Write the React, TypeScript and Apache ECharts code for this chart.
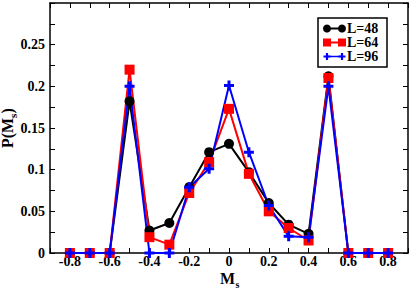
import React, { useEffect, useRef } from "react";
import * as echarts from "echarts";

const xValues = [-0.8, -0.7, -0.6, -0.5, -0.4, -0.3, -0.2, -0.1, 0, 0.1, 0.2, 0.3, 0.4, 0.5, 0.6, 0.7, 0.8];
const L48 = [0, 0, 0, 0.182, 0.027, 0.036, 0.079, 0.121, 0.131, 0.097, 0.06, 0.034, 0.023, 0.212, 0, 0, 0];
const L64 = [0, 0, 0, 0.22, 0.019, 0.01, 0.072, 0.109, 0.173, 0.095, 0.05, 0.03, 0.015, 0.21, 0, 0, 0];
const L96 = [0, 0, 0, 0.2, 0, 0, 0.079, 0.101, 0.201, 0.121, 0.057, 0.02, 0.019, 0.2, 0, 0, 0];
const seriesNames = ["L=48", "L=64", "L=96"];
const colors = ["#000000", "#ff0000", "#0000ff"];

const FONT = "'Liberation Serif', 'Times New Roman', serif";
const PLUS = "path://M3.5,0H6.5V3.5H10V6.5H6.5V10H3.5V6.5H0V3.5H3.5Z";

function plusPoints(cx: number, cy: number, s: number, t: number) {
  const h = s / 2, w = t / 2;
  return [
    [cx - w, cy - h], [cx + w, cy - h], [cx + w, cy - w], [cx + h, cy - w],
    [cx + h, cy + w], [cx + w, cy + w], [cx + w, cy + h], [cx - w, cy + h],
    [cx - w, cy + w], [cx - h, cy + w], [cx - h, cy - w], [cx - w, cy - w],
  ];
}

export default function App() {
  const ref = useRef<HTMLDivElement>(null);
  useEffect(() => {
    if (!ref.current) return;
    const chart = echarts.init(ref.current, null, { renderer: "svg" });
    const pair = (arr: number[]) => xValues.map((x, i) => [x, arr[i]]);
    const axisLine = { show: true, onZero: false, lineStyle: { color: "#000", width: 1.5 } };
    const tick = { show: true, inside: true, length: 5, lineStyle: { color: "#000", width: 1 } };
    const labelStyle = { fontFamily: FONT, fontWeight: "bold" as const, fontSize: 14, color: "#000" };
    const xFmt = (v: number) => {
      const k = Math.round(v * 10);
      if (k % 2 !== 0) return "";
      return String(k / 10);
    };
    const yFmt = (v: number) => {
      const k = Math.round(v * 40);
      if (k % 2 !== 0 || k >= 12) return "";
      return String(Math.round(v * 100) / 100);
    };
    const big = `bold 16px ${FONT}`;
    const small = `bold 11px ${FONT}`;
    const R = Math.PI / 2;
    const graphicEls: any[] = [
      // x axis title M_s
      { type: "text", x: 220, y: 278.5, style: { text: "M", font: big, fill: "#000", align: "left", verticalAlign: "middle" } },
      { type: "text", x: 235.5, y: 284, style: { text: "s", font: `bold 10px ${FONT}`, fill: "#000", align: "left", verticalAlign: "middle" } },
      // y axis title P(M_s), rotated
      { type: "text", x: 7.8, y: 148, rotation: R, style: { text: "P(M", font: big, fill: "#000", align: "left", verticalAlign: "middle" } },
      { type: "text", x: 13.3, y: 118, rotation: R, style: { text: "s", font: small, fill: "#000", align: "left", verticalAlign: "middle" } },
      { type: "text", x: 7.8, y: 113.5, rotation: R, style: { text: ")", font: big, fill: "#000", align: "left", verticalAlign: "middle" } },
      { type: "rect", shape: { x: 318, y: 18, width: 69, height: 49 }, style: { fill: "#fff", stroke: "#000", lineWidth: 1.5 }, z: 100 },
    ];
    const legendRows = [28.5, 42.5, 56.5];
    const lx1 = 327, lx2 = 342;
    seriesNames.forEach((name, i) => {
      const y = legendRows[i];
      graphicEls.push({ type: "line", shape: { x1: lx1, y1: y, x2: lx2, y2: y }, style: { stroke: colors[i], lineWidth: i === 2 ? 1.5 : 2 }, z: 101 });
      [lx1, lx2].forEach((cx) => {
        if (i === 0) graphicEls.push({ type: "circle", shape: { cx, cy: y, r: 4 }, style: { fill: colors[i] }, z: 102 });
        else if (i === 1) graphicEls.push({ type: "rect", shape: { x: cx - 4, y: y - 4, width: 8, height: 8 }, style: { fill: colors[i] }, z: 102 });
        else graphicEls.push({ type: "polygon", shape: { points: plusPoints(cx, y, 7, 2.2) }, style: { fill: colors[i] }, z: 102 });
      });
      graphicEls.push({
        type: "text", x: 347, y, z: 102,
        style: { text: name, fill: "#000", font: `bold 14px ${FONT}`, verticalAlign: "middle", align: "left" },
      });
    });

    chart.setOption({
      animation: false,
      grid: { left: 50, right: 3, top: 3, bottom: 36, containLabel: false, outerBoundsMode: "none" },
      xAxis: [
        {
          type: "value", min: -0.9, max: 0.9, interval: 0.1, position: "bottom",
          axisLine, splitLine: { show: false }, axisTick: tick,
          axisLabel: { ...labelStyle, margin: 1.5, formatter: xFmt, showMinLabel: true, showMaxLabel: true },
        },
        {
          type: "value", min: -0.9, max: 0.9, interval: 0.1, position: "top",
          axisLine, splitLine: { show: false }, axisTick: tick,
          axisLabel: { show: false },
        },
      ],
      yAxis: [
        {
          type: "value", min: 0, max: 0.3, interval: 0.025, position: "left",
          axisLine, splitLine: { show: false }, axisTick: tick,
          axisLabel: { ...labelStyle, margin: 5, formatter: yFmt },
        },
        {
          type: "value", min: 0, max: 0.3, interval: 0.025, position: "right",
          axisLine, splitLine: { show: false }, axisTick: tick,
          axisLabel: { show: false },
        },
      ],
      series: [
        { name: seriesNames[0], type: "line", data: pair(L48), symbol: "circle", symbolSize: 10, lineStyle: { color: colors[0], width: 2 }, itemStyle: { color: colors[0] } },
        { name: seriesNames[1], type: "line", data: pair(L64), symbol: "rect", symbolSize: 10, lineStyle: { color: colors[1], width: 2 }, itemStyle: { color: colors[1] } },
        { name: seriesNames[2], type: "line", data: pair(L96), symbol: PLUS, symbolSize: 10, lineStyle: { color: colors[2], width: 2 }, itemStyle: { color: colors[2] } },
      ],
      graphic: graphicEls,
    });
    return () => chart.dispose();
  }, []);
  return <div ref={ref} style={{ position: "fixed", left: 0, top: 0, width: 411, height: 289, background: "#fff" }} />;
}
